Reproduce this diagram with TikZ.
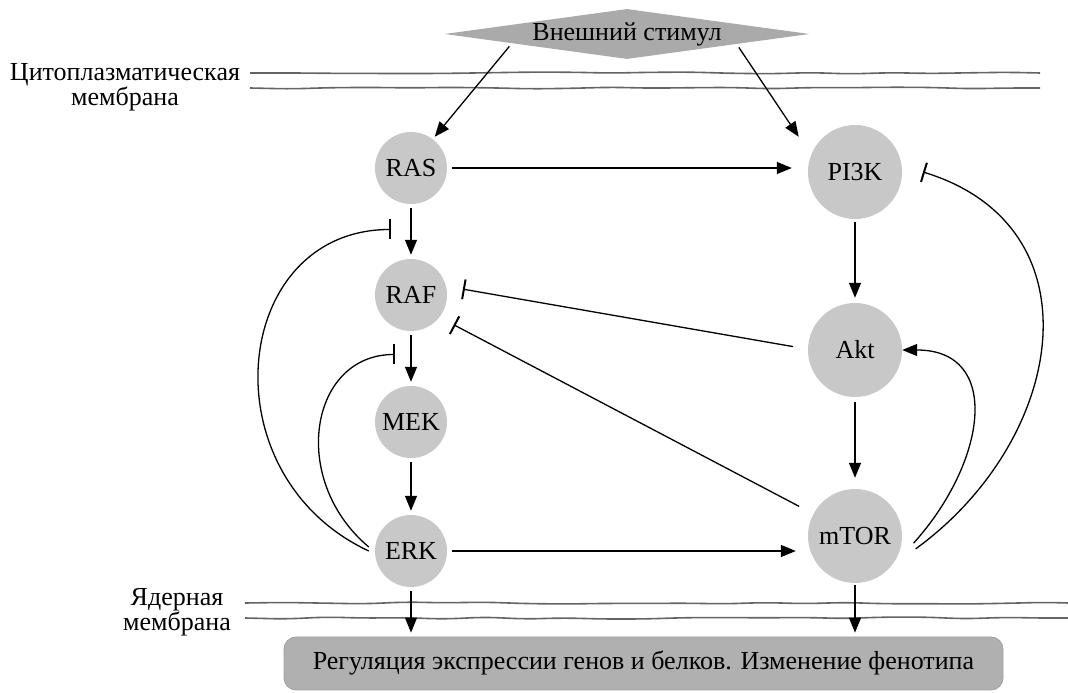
\documentclass[tikz,border=0pt]{standalone}
\usepackage{fontspec}
\setmainfont{Liberation Serif}
\usetikzlibrary{arrows.meta,shapes.geometric,decorations.pathmorphing,calc}
\definecolor{nodegray}{RGB}{200,200,200}
\definecolor{stimgray}{RGB}{170,170,170}
\definecolor{boxgray}{RGB}{176,176,176}
\definecolor{boxedge}{RGB}{160,160,160}
\definecolor{memgray}{RGB}{100,100,100}
\begin{document}
\begin{tikzpicture}[x=1pt,y=1pt,
  every node/.style={font=\fontsize{26}{26}\selectfont},
  smallc/.style={circle,fill=nodegray,minimum size=72pt,inner sep=0pt},
  bigc/.style={circle,fill=nodegray,minimum size=94pt,inner sep=0pt},
  act/.style={-{Triangle[length=15pt,width=12pt]},line width=1.3pt},
  inh/.style={-{Bar[width=20pt,line width=2pt]},line width=1.3pt},
  memb/.style={draw=memgray,line width=1.6pt,decorate,decoration={random steps,segment length=40pt,amplitude=1.1pt},rounded corners=14pt},
  lbl/.style={align=center,font=\fontsize{26}{21}\selectfont}
]
\useasboundingbox (0,0) rectangle (1068,693);
\pgfmathsetseed{11}
% membranes
\draw[memb] (250,620) -- (1040,620);
\draw[memb] (250,605) -- (1040,605);
\draw[memb] (245,90) -- (1068,90);
\draw[memb] (245,75) -- (1068,75);
\node[lbl] (cyto) at (125,606) {Цитоплазматическая\\мембрана};
\node[lbl] (nuc) at (177,81) {Ядерная\\мембрана};
% nodes
\node[diamond,fill=stimgray,aspect=7.3,minimum width=365pt,minimum height=50pt,inner xsep=-30pt,inner ysep=0pt] (stim) at (627,659) {Внешний стимул};
\node[smallc] (RAS) at (411,525) {RAS};
\node[smallc] (RAF) at (411,398) {RAF};
\node[smallc] (MEK) at (411,271) {MEK};
\node[smallc] (ERK) at (411,142) {ERK};
\node[bigc] (PI3K) at (855,521) {PI3K};
\node[bigc] (Akt) at (855,343) {Akt};
\node[bigc] (mTOR) at (855,157) {mTOR};
\node[rounded corners=12pt,fill=boxgray,draw=boxedge,line width=0.8pt,minimum width=719pt,minimum height=53pt] (box) at (643.5,29.5) {Регуляция экспрессии генов и белков. Изменение фенотипа};
% activation edges
\draw[act,shorten <=4pt,shorten >=3pt] ($(stim.west)!0.37!(stim.south)$) -- (RAS.53);
\draw[act,shorten <=4pt,shorten >=22pt] ($(stim.south)!0.6!(stim.east)$) -- (PI3K.159);
\draw[act,shorten <=5pt,shorten >=16pt] (RAS.east) -- (RAS.east -| PI3K.west);
\draw[act,shorten <=4pt,shorten >=4pt] (RAS) -- (RAF);
\draw[act,shorten <=4pt,shorten >=4pt] (RAF) -- (MEK);
\draw[act,shorten <=4pt,shorten >=4pt] (MEK) -- (ERK);
\draw[act,shorten <=3pt,shorten >=5pt] (PI3K) -- (Akt);
\draw[act,shorten <=5pt,shorten >=11pt] (Akt) -- (mTOR);
\draw[act,shorten <=5pt,shorten >=12pt] (ERK.east) -- (ERK.east -| mTOR.west);
\draw[act,shorten <=4pt,shorten >=4pt] (ERK.south) -- (ERK.south |- box.north);
\draw[act,shorten <=2pt,shorten >=4pt] (mTOR.south) -- (mTOR.south |- box.north);
\draw[act] ($(mTOR)+(-7:59)$) .. controls +(48:110) and +(0:100) .. (Akt.east);
% inhibition edges
\draw[inh,shorten <=15pt,shorten >=17pt] (Akt.179.5) -- (RAF.14.5);
\draw[inh,shorten <=16pt,shorten >=16pt] (mTOR.152.8) -- (RAF.-38.2);
\draw[inh] ($(mTOR)+(-12:62)$) .. controls +(36:186) and +(-17:186) .. ($(PI3K)+(0:68)$);
\coordinate (i1) at ($(RAS.south)!0.5!(RAF.north)+(-20,2)$);
\coordinate (i2) at ($(RAF.south)!0.5!(MEK.north)+(-16,4)$);
\draw[inh] ([xshift=-6pt]ERK.west) .. controls +(155:180) and +(180:160) .. (i1);
\draw[inh] ([shift={(-6pt,4pt)}]ERK.west) .. controls +(140:105) and +(180:85) .. (i2);
\end{tikzpicture}
\end{document}
